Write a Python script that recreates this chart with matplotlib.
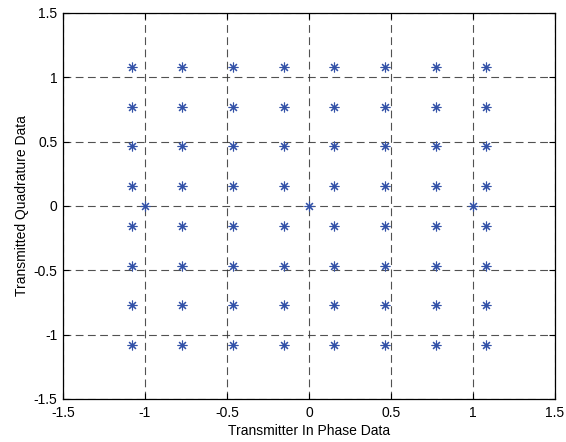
import matplotlib
matplotlib.use('Agg')
import matplotlib.pyplot as plt
from matplotlib.ticker import FuncFormatter

# 64-QAM constellation levels
levels = [-1.08, -0.772, -0.463, -0.154, 0.154, 0.463, 0.772, 1.08]
# extra points on the real axis
pilot_i = [-1.0, 0.0, 1.0]
pilot_q = [0.0, 0.0, 0.0]
ticks = [-1.5, -1, -0.5, 0, 0.5, 1, 1.5]

plt.rcParams['font.family'] = ['Liberation Sans', 'DejaVu Sans']

i_vals = [x for x in levels for y in levels]
q_vals = [y for x in levels for y in levels]

fig = plt.figure(figsize=(5.66, 4.42), dpi=100)
ax = fig.add_axes([0.1113, 0.0973, 0.8693, 0.8733])

color = '#3352a8'
star = (8, 2, 0)
ax.plot(i_vals, q_vals, linestyle='none', marker=star, ms=7, mew=0.8, color=color)
ax.plot(pilot_i, pilot_q, linestyle='none', marker=star, ms=7, mew=0.8, color=color)

ax.set_xlim(-1.5, 1.5)
ax.set_ylim(-1.5, 1.5)
ax.set_xticks(ticks)
ax.set_yticks(ticks)
fmt = FuncFormatter(lambda v, p: ('%g' % v))
ax.xaxis.set_major_formatter(fmt)
ax.yaxis.set_major_formatter(fmt)
ax.grid(True, linestyle=(0, (7, 4)), color='#333333', linewidth=0.8, alpha=0.85)
ax.tick_params(direction='in', top=True, right=True, labelsize=10, length=4, width=0.8)
ax.tick_params(axis='x', pad=5)
ax.tick_params(axis='y', pad=4)
for s in ax.spines.values():
    s.set_linewidth(0.9)

ax.set_xlabel('Transmitter In Phase Data', fontsize=10, labelpad=3)
ax.set_ylabel('Transmitted Quadrature Data', fontsize=10, labelpad=3)

fig.savefig('out.png', dpi=100)
